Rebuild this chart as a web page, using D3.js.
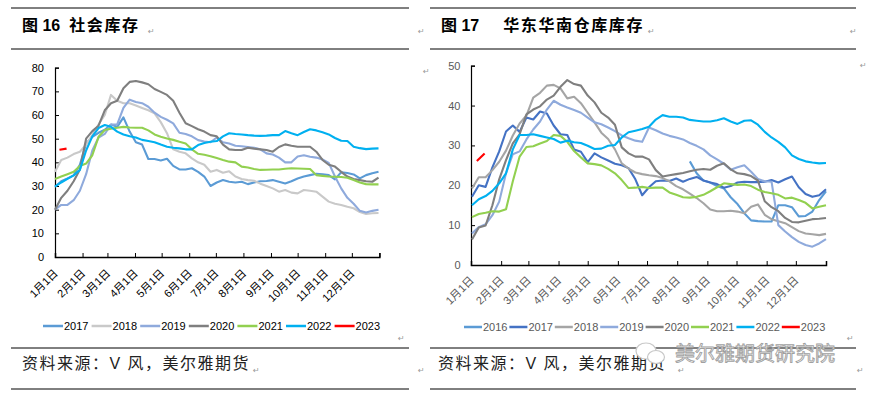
<!DOCTYPE html>
<html>
<head>
<meta charset="utf-8">
<script src="https://cdn.jsdelivr.net/npm/d3@7"></script>
<style>
  body { margin: 0; background: #fff; }
  svg { display: block; }
</style>
</head>
<body>
<svg id="chart" width="871" height="395"></svg>
<script>
// month ticks (day of year) and their labels
const monthDays = [0, 31, 59, 90, 120, 151, 181, 212, 243, 273, 304, 334, 365]
const monthLabels = ["1月1日","2月1日","3月1日","4月1日","5月1日","6月1日","7月1日","8月1日","9月1日","10月1日","11月1日","12月1日"]

// ---- left chart: 社会库存 (weekly, week 0 = Jan 1) ----
const leftYears = ["2017","2018","2019","2020","2021","2022","2023"]
const leftColors = ["#5B9BD5","#C9C9C9","#8FAADC","#7F7F7F","#92D050","#00B0F0","#FF0000"]
const left2017 = [29.7,32,33.2,34.5,39,48,50.8,52.5,53.8,56,55,59,53,48.5,47.5,41.4,41.4,40.8,41.5,38.5,37,37,37.5,36,34,30,31.5,32.5,31.8,31.5,31.8,30.8,31.5,32,32.1,32.5,31.8,31.1,32,33.2,34,34.6,35.2,35,34.6,32.8,35.8,35.5,34.9,33.2,34.6,35.4,36]
const left2018 = [36,41,42,43.5,44.5,47.5,51.5,56,60,68.5,66,65,65,64,63,62,60.7,57,52.3,45.5,44.5,43.8,41.7,40,39,36,36.8,35.6,36.2,34,33,32.5,32.2,31,30,29,27.6,28.3,27.2,26.9,28.3,28,27.6,25.5,23.4,22.5,22,21.2,20.6,19,18.2,18.5,18.6]
const left2019 = [20,22,22,24,28,35,45,50.5,52,56,56,63,66.5,65.5,65,63.5,61,59.2,58,56.5,52.5,52,51,49.4,48.8,48.5,50.5,48.5,48,47,46.8,46.5,46.2,45.5,43.8,43.3,42,40,40,42.5,43,42.4,42,41.2,39.8,34,29,25,22.5,19.5,18.8,19.5,20]
const left2020 = [20,25,28,32,37,50,53.2,55.5,62,65,66,71.3,74,74.4,73.8,73,71,69.8,68.5,66,61,56.5,55.3,54,53,51.5,51,47.5,45.5,45.2,45.2,46.2,45.8,45.5,45.2,44.5,46.5,47.6,47,46.6,46.6,46.6,44.5,41,39,38.2,36,34,33,32.5,32,31.8,33.5]
const left2021 = [33,34,35,36,38.5,39.5,43,50.8,53.7,54.2,54.6,55,54.7,54.6,54.6,53.5,51.8,50.8,50.1,49.5,48.7,48,45.5,43.6,43.2,42.6,41.8,41,40.3,40,38.2,37.8,37.2,36.8,36.9,37,37,37.3,37.5,37.4,37.3,37.2,34.6,34.3,34,33.9,33.8,33.5,32.5,31.5,30.8,30.7,30.7]
const left2022 = [29.7,31.5,33,34.5,36.8,45,51,54.5,55.8,55,53,51.8,51,50.5,49.5,49,48.5,47.5,46.6,46.2,45.9,45.5,45.5,47.3,48.2,48.7,49,51,52.3,52,51.8,51.5,51.3,51.2,51.3,51.5,51.5,53.2,52.3,51.5,52.8,54,53.5,52.7,51.8,50.3,49.1,49,46.6,46,45.6,45.8,45.9]
const left2023Days = [5, 13]
const left2023 = [45.3, 45.8]
const leftTicks = [0, 10, 20, 30, 40, 50, 60, 70, 80]

// ---- right chart: 华东华南仓库库存 ----
const rightYears = ["2016","2017","2018","2019","2020","2021","2022","2023"]
const rightColors = ["#5B9BD5","#4472C4","#A5A5A5","#8FAADC","#7F7F7F","#92D050","#00B0F0","#FF0000"]
const right2016Start = 32   // first week with data
const right2016 = [26,23,21.2,20.7,19.8,19.2,17,15.3,13,11.2,11,10.9,10.9,15,15,14.5,12.2,12.3,13.4,16.3,18.5]
const right2017 = [17.1,20,19.6,24.5,28.5,33.5,35,33.4,37,36.5,38.5,38,35,32.8,32.6,29,28.4,25.8,28,27,26.2,25.4,25,24.3,21.5,17.5,19.5,21,21.2,21.1,21.7,20.9,21.6,22.1,21.2,20.7,20.3,19.4,19.8,20.7,20.9,20.8,20.8,20.9,21.3,20.7,21.5,22.2,19.5,17.8,17.1,17.5,19]
const right2018 = [19.2,22,22,23.8,25.9,28.7,32.5,35.5,37.5,42,43.2,45,45.2,44.3,41.8,42.2,40.6,38.2,35.8,33.2,31.6,29,25.5,24.2,23.2,22.8,22.5,22.3,21.8,21,19.8,19,17.9,16.8,15.5,13.9,13.5,13.5,13.6,13.4,13,14.6,15.2,12.6,11.5,11,10.5,9.5,8.5,7.9,7.7,7.5,7.8]
const right2019 = [7.9,9.5,10.2,12.5,15.9,23,27.8,28.5,31.5,34,36,39,41.2,40.2,39.5,38.9,38.2,37,35.8,35.3,34.5,33.6,32.5,31.8,31.2,30.9,34.5,33.8,33,32.4,32,31.5,30.6,29.9,29,27.5,26.5,25.4,23.9,24.5,25,23.4,21.6,21,20.9,10,8.4,7,5.8,5,4.6,5.4,6.5]
const right2020 = [6.4,9.4,9.9,15,21.5,26.3,30.5,32.8,37.8,39,39.8,41.5,42.5,44.7,46.4,45.4,45,42.5,40.8,38.2,37,35.2,29.5,28,27.2,27.2,26.5,23.8,22.2,22.5,22.8,23.1,23.5,23.9,24.1,23.9,24.9,25.5,24,23,22.8,22.3,21.2,16,14.5,13.5,11.8,10.8,10.7,11.1,11.5,11.6,11.8]
const right2021 = [12,12.8,13.1,13.5,13.4,14,21,27.2,29.6,29.8,30.5,31.1,32.6,32.4,30.9,28.6,27,25.5,25.3,25,24.1,23,21.3,19.3,19.4,19.6,19.3,19.4,19.4,18.2,17.6,17,16.9,17.1,17.6,18.5,19.5,20.5,20.3,20.1,20.2,19.8,18.9,18.3,18,17.6,16.7,16.9,16.3,15.6,14.2,14.6,15]
const right2022 = [15,16.5,17.3,18.6,20.5,23,29,32.6,32.6,32.8,32.4,32,31.6,30.7,31.2,30.8,30.6,29.9,29.1,29.2,29.9,30.1,32,33.3,33.7,34.1,34.7,36.5,37.6,37.2,37.2,37,36.4,36.2,36,36,36.3,36.8,36,35.4,36.2,36.3,35.2,33.4,32,30.9,29.5,27.5,26.6,26,25.7,25.5,25.6]
const right2023Days = [6, 14]
const right2023 = [26.1, 28]
const rightTicks = [0, 10, 20, 30, 40, 50]

const svg = d3.select("#chart")
const cjk = "'Liberation Sans', 'Noto Sans CJK SC', sans-serif"

// weekly series -> points on day-of-year
function weekly(values, startWeek, offset) {
  return values.map((v, i) => ({day: (startWeek + i) * 7 + offset, v: v}))
}
function daily(days, values) {
  return values.map((v, i) => ({day: days[i], v: v}))
}

const leftSeries = [
  weekly(left2017, 0, 0), weekly(left2018, 0, 0), weekly(left2019, 0, 0),
  weekly(left2020, 0, 0), weekly(left2021, 0, 0), weekly(left2022, 0, 0),
  daily(left2023Days, left2023)
].map((pts, i) => ({name: leftYears[i], color: leftColors[i], pts}))

const rightSeries = [
  weekly(right2016, right2016Start, 1), weekly(right2017, 0, 1), weekly(right2018, 0, 1),
  weekly(right2019, 0, 1), weekly(right2020, 0, 1), weekly(right2021, 0, 1),
  weekly(right2022, 0, 1), daily(right2023Days, right2023)
].map((pts, i) => ({name: rightYears[i], color: rightColors[i], pts}))

function drawPanel(cfg) {
  const g = svg.append("g")
  const x = d3.scaleLinear().domain([0, 365]).range(cfg.xRange)
  const y = d3.scaleLinear().domain([0, cfg.yMax]).range(cfg.yRange)

  // y axis, ticks pointing inward
  const ya = g.append("g")
    .attr("transform", `translate(${cfg.xRange[0]},0)`)
    .call(d3.axisLeft(y).tickValues(cfg.yTicks).tickSize(-4).tickPadding(cfg.yPad))
  ya.select(".domain").attr("stroke", "#000").attr("stroke-width", 1.2)
  ya.selectAll(".tick line").attr("stroke", "#000")
  ya.selectAll("text").attr("fill", cfg.textColor)
    .style("font-family", "'Liberation Sans', sans-serif").style("font-size", "11px")

  // x axis with month ticks
  const xa = g.append("g")
    .attr("transform", `translate(0,${cfg.yRange[0]})`)
    .call(d3.axisBottom(x).tickValues(monthDays).tickSize(-4)
      .tickFormat((d, i) => i < 12 ? monthLabels[i] : ""))
  xa.select(".domain").attr("stroke", "#000").attr("stroke-width", 1.5)
  xa.selectAll(".tick line").attr("stroke", "#000")
  xa.selectAll("text")
    .attr("x", 0).attr("y", 0).attr("dy", 0)
    .attr("transform", `translate(3,${cfg.labelDy}) rotate(-45)`)
    .style("text-anchor", "end")
    .attr("fill", cfg.textColor)
    .style("font-family", cjk).style("font-size", "11px")

  const line = d3.line().x(d => x(d.day)).y(d => y(d.v))
  g.selectAll(".series")
    .data(cfg.series).enter()
    .append("path")
    .attr("fill", "none")
    .attr("stroke", d => d.color)
    .attr("stroke-width", 2.1)
    .attr("stroke-linejoin", "round")
    .attr("d", d => line(d.pts))

  // legend
  const lg = g.selectAll(".lg").data(cfg.series).enter().append("g")
    .attr("transform", (d, i) => `translate(${cfg.legendX + i * cfg.legendStep},${cfg.legendY})`)
  lg.append("line").attr("x1", 0).attr("x2", cfg.legendLine).attr("y1", 0).attr("y2", 0)
    .attr("stroke", d => d.color).attr("stroke-width", 2.5)
  lg.append("text").attr("x", cfg.legendLine + 1).attr("y", 4)
    .attr("fill", cfg.textColor)
    .style("font-family", "'Liberation Sans', sans-serif").style("font-size", "11px")
    .text(d => d.name)
}

drawPanel({
  series: leftSeries, xRange: [55, 379.4], yRange: [257, 67.7], yMax: 80, yTicks: leftTicks,
  yPad: 11, labelDy: 17, textColor: "#000",
  legendX: 43, legendStep: 48.6, legendY: 326, legendLine: 20
})
drawPanel({
  series: rightSeries, xRange: [471, 826], yRange: [265, 65.7], yMax: 50, yTicks: rightTicks,
  yPad: 10.5, labelDy: 16, textColor: "#595959",
  legendX: 464, legendStep: 45.4, legendY: 327, legendLine: 18
})

// ---- document-style frame: rules, titles, sources ----
const rules = [[11, 409, 8], [11, 409, 49], [11, 409, 348], [11, 409, 389],
               [430, 856, 8], [430, 856, 49], [430, 856, 348], [430, 856, 389]]
svg.selectAll(".rule").data(rules).enter().append("line")
  .attr("x1", d => d[0]).attr("x2", d => d[1]).attr("y1", d => d[2]).attr("y2", d => d[2])
  .attr("stroke", "#000").attr("stroke-width", 1)

function title(xp, num, name, gap) {
  const t = svg.append("text").attr("x", xp).attr("y", 31)
    .style("font-family", cjk).style("font-size", "16px").style("font-weight", "bold").attr("fill", "#000")
  t.append("tspan").text("图 " + num)
  t.append("tspan").attr("dx", gap).style("letter-spacing", "1.6px").text(name)
}
title(22, "16", "社会库存", 9)
title(441, "17", "华东华南仓库库存", 24)

const sources = [22, 438]
svg.selectAll(".src").data(sources).enter().append("text")
  .attr("x", d => d).attr("y", 369)
  .style("font-family", cjk).style("font-size", "16px").style("letter-spacing", "1.5px")
  .attr("fill", "#222")
  .text("资料来源：V 风，美尔雅期货")

// paragraph marks
const marks = [[148, 34], [418, 34], [648, 34], [850, 34], [423, 74], [860, 68],
               [398, 341], [253, 373], [418, 373], [678, 373], [847, 341], [857, 373]]
svg.selectAll(".pm").data(marks).enter().append("text")
  .attr("x", d => d[0]).attr("y", d => d[1])
  .style("font-family", "'DejaVu Sans', sans-serif").style("font-size", "8px")
  .attr("fill", "#999").text("↵")

// watermark
const wm = svg.append("g")
wm.append("ellipse").attr("cx", 646).attr("cy", 351).attr("rx", 10).attr("ry", 8)
  .attr("fill", "#fff").attr("stroke", "#c8c8c8").attr("stroke-width", 1.2)
wm.append("ellipse").attr("cx", 656).attr("cy", 357).attr("rx", 8.5).attr("ry", 6.5)
  .attr("fill", "#fff").attr("stroke", "#c8c8c8").attr("stroke-width", 1.2)
wm.append("text").attr("x", 675).attr("y", 361)
  .style("font-family", "'Noto Sans CJK SC', sans-serif").style("font-size", "20px")
  .attr("fill", "#fff").attr("stroke", "#a0a0a0").attr("stroke-width", 0.9)
  .text("美尔雅期货研究院")
</script>
</body>
</html>
